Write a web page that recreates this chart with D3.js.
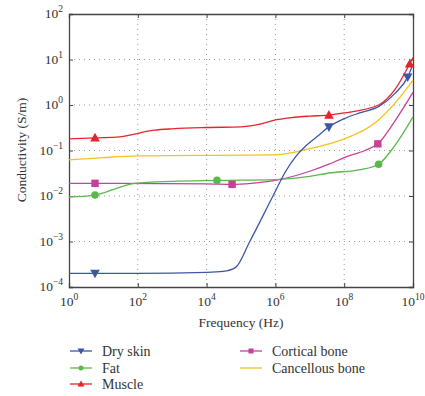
<!DOCTYPE html>
<html><head><meta charset="utf-8">
<script src="https://cdn.jsdelivr.net/npm/d3@7"></script>
<style>body{margin:0;background:#fff}svg{display:block}text{font-family:"Liberation Serif","DejaVu Serif",serif;fill:#333}</style>
</head><body><svg id="c" width="425" height="396"></svg>
<script>
// Data: [frequency Hz, conductivity S/m]
const drySkin = [[1,2.0e-4],[100,2.0e-4],[1e4,2.1e-4],[3e4,2.2e-4],[7e4,2.7e-4],[1.8e5,1e-3],[8.5e5,1e-2],[2e6,0.035],[4e6,0.075],[8e6,0.13],[1.6e7,0.2],[3.6e7,0.33],[1e8,0.5],[3e8,0.68],[1e9,0.92],[3e9,1.8],[7e9,4.1],[1e10,8]];
const fat = [[1,0.0095],[5.7,0.0105],[20,0.014],[80,0.019],[1e3,0.021],[2e4,0.022],[1e6,0.023],[1e7,0.027],[3.6e7,0.032],[3e8,0.038],[1e9,0.05],[3e9,0.13],[1e10,0.55]];
const muscle = [[1,0.18],[5.7,0.19],[30,0.2],[300,0.28],[1e3,0.3],[1e4,0.32],[1e5,0.33],[3e5,0.37],[1e6,0.47],[3e6,0.53],[1e7,0.57],[3.6e7,0.6],[1e8,0.67],[1e9,1.0],[3e9,2.2],[8e9,8],[1e10,11]];
const corticalBone = [[1,0.019],[1e4,0.0185],[5.5e4,0.018],[2e5,0.019],[1e6,0.022],[1e7,0.035],[3.6e7,0.05],[1e8,0.07],[4e8,0.1],[9.5e8,0.14],[3e9,0.45],[1e10,1.9]];
const cancellousBone = [[1,0.062],[10,0.07],[100,0.076],[1e4,0.078],[1e6,0.08],[1e7,0.11],[3.6e7,0.14],[1e8,0.18],[1e9,0.47],[3e9,1.1],[1e10,3.5]];
// Marker positions
const drySkinMarkers = [[5.7,2.0e-4],[3.6e7,0.33],[7e9,4.1]];
const fatMarkers = [[5.7,0.0105],[2e4,0.022],[1e9,0.05]];
const muscleMarkers = [[5.7,0.19],[3.6e7,0.6],[8e9,8]];
const corticalMarkers = [[5.7,0.019],[5.5e4,0.018],[9.5e8,0.14]];
const xTickExps = [0,2,4,6,8,10];
const yTickExps = [-4,-3,-2,-1,0,1,2];
const seriesNames = ["Dry skin","Fat","Muscle","Cortical bone","Cancellous bone"];

const series = [
  {name:seriesNames[0],data:drySkin,marks:drySkinMarkers,color:"#3d56a6",sym:"down"},
  {name:seriesNames[1],data:fat,marks:fatMarkers,color:"#5cb84b",sym:"circle"},
  {name:seriesNames[2],data:muscle,marks:muscleMarkers,color:"#e8232b",sym:"up"},
  {name:seriesNames[3],data:corticalBone,marks:corticalMarkers,color:"#c8409b",sym:"square"},
  {name:seriesNames[4],data:cancellousBone,marks:[],color:"#f2c31c",sym:null}
];

const svg = d3.select("#c");
const L=69,R=413,T=14,B=287;
const x = d3.scaleLog().domain([1,1e10]).range([L,R]);
const y = d3.scaleLog().domain([1e-4,1e2]).range([B,T]);

// grid
const g = svg.append("g");
xTickExps.slice(1,-1).forEach(e=>{
  g.append("line").attr("x1",x(10**e)).attr("x2",x(10**e)).attr("y1",T).attr("y2",B)
   .attr("stroke","#999").attr("stroke-width",1).attr("stroke-dasharray","1,4");
});
yTickExps.slice(1,-1).forEach(e=>{
  g.append("line").attr("y1",y(10**e)).attr("y2",y(10**e)).attr("x1",L).attr("x2",R)
   .attr("stroke","#999").attr("stroke-width",1).attr("stroke-dasharray","1,4");
});

// axes (ticks inward)
const xa = d3.axisBottom(x).tickValues(xTickExps.map(e=>10**e)).tickSize(-4).tickFormat("");
const xt = d3.axisTop(x).tickValues(xTickExps.map(e=>10**e)).tickSize(-4).tickFormat("");
const ya = d3.axisLeft(y).tickValues(yTickExps.map(e=>10**e)).tickSize(-4).tickFormat("");
const yr = d3.axisRight(y).tickValues(yTickExps.map(e=>10**e)).tickSize(-4).tickFormat("");
[[xa,`translate(0,${B})`],[xt,`translate(0,${T})`],[ya,`translate(${L},0)`],[yr,`translate(${R},0)`]].forEach(([a,t])=>{
  const gg=svg.append("g").attr("transform",t).call(a);
  gg.select(".domain").attr("stroke","#444").attr("stroke-width",1.3);
  gg.selectAll(".tick line").attr("stroke","#444");
});

// tick labels
xTickExps.forEach(e=>{
  const t=svg.append("text").attr("x",x(10**e)).attr("y",306).attr("text-anchor","middle").attr("font-size",13.5);
  t.append("tspan").text("10");
  t.append("tspan").attr("dy",-6).attr("font-size",9.5).text(e);
});
yTickExps.forEach(e=>{
  const t=svg.append("text").attr("x",63).attr("y",y(10**e)+4).attr("text-anchor","end").attr("font-size",13.5);
  t.append("tspan").text("10");
  t.append("tspan").attr("dy",-6).attr("font-size",9.5).text(e<0?"\u2212"+(-e):e);
});

svg.append("text").attr("x",241).attr("y",327).attr("text-anchor","middle").attr("font-size",13.5).text("Frequency (Hz)");
svg.append("text").attr("transform","translate(26,150) rotate(-90)").attr("text-anchor","middle").attr("font-size",13.5).text("Conductivity (S/m)");

const line = d3.line().x(d=>x(d[0])).y(d=>y(d[1])).curve(d3.curveMonotoneX);
const plot = svg.append("g");
const drawOrder=[4,3,1,0,2];
drawOrder.forEach(i=>{
  const s=series[i];
  plot.append("path").datum(s.data).attr("d",line).attr("fill","none").attr("stroke",s.color).attr("stroke-width",1.3);
});

function sym(gp,type,cx,cy,color){
  if(type==="circle") gp.append("circle").attr("cx",cx).attr("cy",cy).attr("r",3.8).attr("fill",color);
  else if(type==="square") gp.append("rect").attr("x",cx-3.7).attr("y",cy-3.7).attr("width",7.4).attr("height",7.4).attr("fill",color);
  else if(type==="up") gp.append("path").attr("d",`M${cx},${cy-5}L${cx+4.8},${cy+3.6}L${cx-4.8},${cy+3.6}Z`).attr("fill",color);
  else if(type==="down") gp.append("path").attr("d",`M${cx},${cy+5}L${cx+4.8},${cy-3.6}L${cx-4.8},${cy-3.6}Z`).attr("fill",color);
}
drawOrder.forEach(i=>{
  const s=series[i];
  s.marks.forEach(m=>sym(plot,s.sym,x(m[0]),y(m[1]),s.color));
});

// legend
const leg=svg.append("g");
const legPos=[[70,351],[70,368],[70,384],[240,351],[240,368]];
series.forEach((s,i)=>{
  const [lx,ly]=legPos[i];
  leg.append("line").attr("x1",lx).attr("x2",lx+22).attr("y1",ly).attr("y2",ly).attr("stroke",s.color).attr("stroke-width",1.3);
  if(s.sym){
    const gg=leg.append("g");
    if(s.sym==="circle") gg.append("circle").attr("cx",lx+11).attr("cy",ly).attr("r",2.5).attr("fill",s.color);
    else if(s.sym==="square") gg.append("rect").attr("x",lx+8.5).attr("y",ly-2.5).attr("width",5).attr("height",5).attr("fill",s.color);
    else if(s.sym==="up") gg.append("path").attr("d",`M${lx+11},${ly-3.5}L${lx+14.5},${ly+2.5}L${lx+7.5},${ly+2.5}Z`).attr("fill",s.color);
    else gg.append("path").attr("d",`M${lx+11},${ly+3.5}L${lx+14.5},${ly-2.5}L${lx+7.5},${ly-2.5}Z`).attr("fill",s.color);
  }
  leg.append("text").attr("x",lx+32).attr("y",ly+4.5).attr("font-size",14).text(s.name);
});
</script></body></html>
